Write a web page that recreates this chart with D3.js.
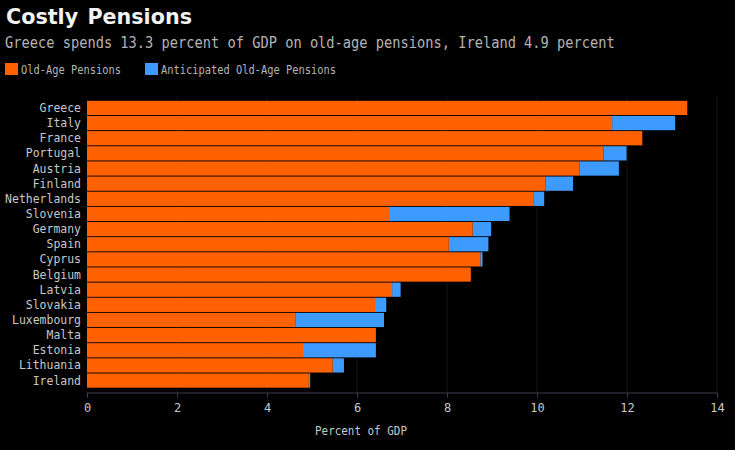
<!DOCTYPE html>
<html>
<head>
<meta charset="utf-8">
<script src="https://cdn.jsdelivr.net/npm/d3@7"></script>
<style>
  html, body { margin: 0; padding: 0; background: #000; }
  svg { display: block; }
  text { font-family: "DejaVu Sans Mono", monospace; }
</style>
</head>
<body>
<svg id="chart"></svg>
<script>
// values, percent of GDP
var countries = ["Greece","Italy","France","Portugal","Austria","Finland","Netherlands","Slovenia","Germany","Spain","Cyprus","Belgium","Latvia","Slovakia","Luxembourg","Malta","Estonia","Lithuania","Ireland"];
var oldAge = [13.34,11.67,12.34,11.48,10.95,10.19,9.93,6.71,8.57,8.04,8.74,8.53,6.78,6.40,4.64,6.42,4.80,5.46,4.93];
var anticipatedTotal = [13.34,13.07,12.34,11.99,11.82,10.80,10.16,9.39,8.98,8.92,8.79,8.53,6.97,6.65,6.60,6.42,6.42,5.71,4.96];
var xTicks = [0,2,4,6,8,10,12,14];
var legendLabels = ["Old-Age Pensions","Anticipated Old-Age Pensions"];

var width = 735,
    height = 450,
    orange = "#ff6100",
    blue = "#3d9bff";

var svg = d3.select("#chart").attr("width", width).attr("height", height);

svg.append("rect").attr("width", width).attr("height", height).attr("fill", "#000");

var x = d3.scaleLinear().domain([0, 14]).range([87, 717]);
var y = d3.scaleBand().domain(countries).range([100.5, 388]).paddingInner(0.06).paddingOuter(0.02);

// the reference type is tall and narrow, so squeeze the mono font to a set advance
function squeeze(sel, advance) {
  sel.attr("textLength", function(d) { return this.textContent.length * advance; })
     .attr("lengthAdjust", "spacingAndGlyphs");
}

// faint gridlines
svg.append("g").selectAll("line")
    .data(xTicks.slice(1))
    .enter().append("line")
    .attr("x1", function(d) { return x(d); })
    .attr("x2", function(d) { return x(d); })
    .attr("y1", 96)
    .attr("y2", 392)
    .attr("stroke", "#141414");

// blue part starts where the orange stops
svg.append("g").selectAll("rect")
    .data(countries)
    .enter().append("rect")
    .attr("x", function(d, i) { return x(oldAge[i]); })
    .attr("y", function(d) { return y(d); })
    .attr("width", function(d, i) { return x(anticipatedTotal[i]) - x(oldAge[i]); })
    .attr("height", y.bandwidth())
    .attr("fill", blue);

svg.append("g").selectAll("rect")
    .data(countries)
    .enter().append("rect")
    .attr("x", x(0))
    .attr("y", function(d) { return y(d); })
    .attr("width", function(d, i) { return x(oldAge[i]) - x(0); })
    .attr("height", y.bandwidth())
    .attr("fill", orange);

// country labels
svg.append("g").selectAll("text")
    .data(countries)
    .enter().append("text")
    .attr("x", 81)
    .attr("y", function(d) { return y(d) + y.bandwidth() / 2 + 4; })
    .attr("text-anchor", "end")
    .attr("font-size", 12.4)
    .attr("fill", "#c8c8c8")
    .text(function(d) { return d; })
    .call(squeeze, 6.9);

// x axis
var axis = svg.append("g")
    .attr("transform", "translate(0,392.5)")
    .call(d3.axisBottom(x).tickValues(xTicks).tickSize(5).tickPadding(6));
axis.select(".domain").attr("stroke", "#3a3f4a");
axis.selectAll(".tick line").attr("stroke", "#3a3f4a");
axis.selectAll(".tick text")
    .attr("font-family", "DejaVu Sans Mono")
    .attr("font-size", 12)
    .attr("fill", "#c8c8c8");

svg.append("text")
    .attr("x", 361)
    .attr("y", 435)
    .attr("text-anchor", "middle")
    .attr("font-size", 12)
    .attr("fill", "#c8c8c8")
    .text("Percent of GDP")
    .call(squeeze, 6.57);

// titles
svg.append("text")
    .attr("x", 6)
    .attr("y", 24)
    .style("font-family", "DejaVu Sans")
    .attr("font-weight", "bold")
    .attr("font-size", 20.7)
    .attr("word-spacing", 2)
    .attr("fill", "#f2f2f2")
    .text("Costly Pensions");

svg.append("text")
    .attr("x", 5)
    .attr("y", 47.5)
    .attr("font-size", 15)
    .attr("fill", "#b4b4b4")
    .text("Greece spends 13.3 percent of GDP on old-age pensions, Ireland 4.9 percent")
    .call(squeeze, 8.24);

// legend
var legendX = [5, 145];
var legendColors = [orange, blue];
var legend = svg.append("g").selectAll("g")
    .data(legendLabels)
    .enter().append("g")
    .attr("transform", function(d, i) { return "translate(" + legendX[i] + ",63)"; });
legend.append("rect")
    .attr("width", 13)
    .attr("height", 12)
    .attr("fill", function(d, i) { return legendColors[i]; });
legend.append("text")
    .attr("x", 16)
    .attr("y", 10.5)
    .attr("font-size", 12)
    .attr("fill", "#b4b4b4")
    .text(function(d) { return d; })
    .call(squeeze, 6.25);
</script>
</body>
</html>
